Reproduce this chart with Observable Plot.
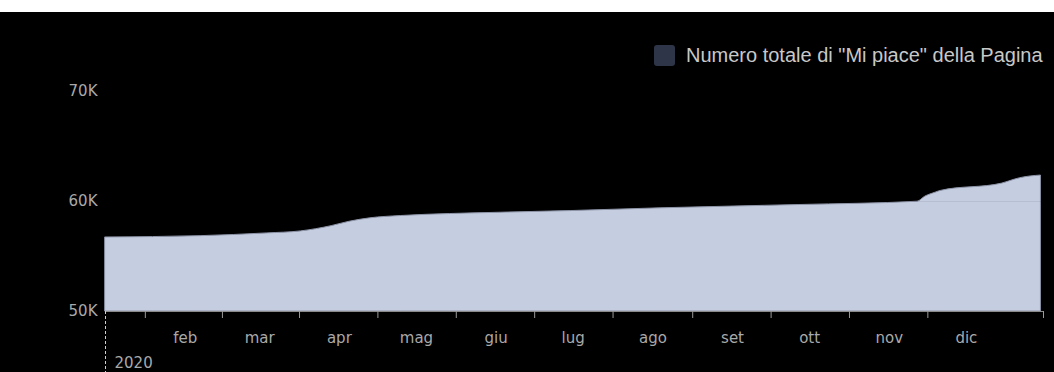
<!DOCTYPE html>
<html>
<head>
<meta charset="utf-8">
<script src="https://cdn.jsdelivr.net/npm/d3@7"></script>
<script src="https://cdn.jsdelivr.net/npm/@observablehq/plot@0.6"></script>
<style>
  html, body { margin: 0; padding: 0; background: #ffffff; }
  #wrap { position: relative; margin-top: 12px; width: 1054px; height: 360px; background: #000; overflow: hidden; }
  #legend { position: absolute; left: 654px; top: 32px; display: flex; align-items: center;
            font-family: "Liberation Sans", Arial, sans-serif; font-size: 20px; color: #c8c8c8; white-space: nowrap; }
  #legend .sw { width: 21px; height: 21px; border-radius: 3px; background: #2e3548; margin-right: 11px; }
  #chart svg { display: block; }
</style>
</head>
<body>
<div id="wrap">
  <div id="chart"></div>
  <div id="legend"><span class="sw"></span><span id="legend-text"></span></div>
</div>
<script>
// ---- data ----
const seriesName = 'Numero totale di "Mi piace" della Pagina';
const dates = [
  "2020-01-01", "2020-02-07", "2020-03-04", "2020-03-17", "2020-03-29",
  "2020-04-05", "2020-04-13", "2020-04-25", "2020-05-14", "2020-06-03",
  "2020-06-30", "2020-08-04", "2020-09-27", "2020-11-12", "2020-11-15",
  "2020-11-19", "2020-11-21", "2020-12-15", "2020-12-20", "2020-12-22",
  "2020-12-30"
];
const likes = [
  56730, 56850, 57100, 57280, 57760,
  58160, 58470, 58680, 58860, 58980,
  59130, 59380, 59680, 59980, 60440,
  60800, 60960, 61630, 62000, 62120,
  62360
];
const yTicks = [50000, 60000, 70000];
const monthLabels = ["feb", "mar", "apr", "mag", "giu", "lug", "ago", "set", "ott", "nov", "dic"];
const yearLabel = "2020";
const domainStart = "2020-01-01";
const domainEnd = "2020-12-31";

// ---- build ----
const parse = d3.utcParse("%Y-%m-%d");
const data = dates.map((d, i) => ({date: parse(d), value: likes[i]}));
const x0 = parse(domainStart), x1 = parse(domainEnd);
const monthStarts = monthLabels.map((_, i) => new Date(Date.UTC(2020, i + 1, 1)));
// tick marks sit at the middle of each month, plus the domain end
const mids = d3.range(11).map(i => {
  const a = Date.UTC(2020, i, 1), b = Date.UTC(2020, i + 1, 1);
  return new Date((a + b) / 2);
}).concat([x1]);

document.getElementById("legend-text").textContent = seriesName;

const gray = "#a9a9a9";
const frameH = 220;

const chart = Plot.plot({
  width: 1054,
  height: 360,
  marginLeft: 105,
  marginRight: 11,
  marginTop: 79,
  marginBottom: 61,
  style: {background: "#000", color: gray, fontFamily: "'DejaVu Sans', Verdana, sans-serif", fontSize: "15px"},
  x: {type: "utc", domain: [x0, x1], axis: null},
  y: {domain: [50000, 70000], axis: null},
  marks: [
    Plot.areaY(data, {x: "date", y1: 50000, y2: "value", curve: "monotone-x",
      fill: "#c5cde1", stroke: "#8e95a8", strokeWidth: 1}),
    Plot.ruleY(yTicks.slice(1), {stroke: "#000", strokeOpacity: 0.07}),
    Plot.ruleY([50000], {stroke: "#8a8a8a"}),
    Plot.text(yTicks, {y: d => d, frameAnchor: "left", dx: -8, textAnchor: "end",
      text: d => d / 1000 + "K", fill: gray}),
    Plot.ruleX(mids, {x: d => d, insetTop: frameH, insetBottom: -7, stroke: "#9a9a9a"}),
    Plot.ruleX([x0], {x: d => d, insetTop: frameH, insetBottom: -61, stroke: "#cfcfcf", strokeDasharray: "3,2"}),
    Plot.text(monthStarts, {x: d => d, frameAnchor: "bottom", dy: 27, lineAnchor: "middle",
      text: (d, i) => monthLabels[i], fill: gray}),
    Plot.text([x0], {x: d => d, frameAnchor: "bottom", dy: 52, dx: 9, textAnchor: "start",
      lineAnchor: "middle", text: [yearLabel], fill: gray})
  ]
});
document.getElementById("chart").appendChild(chart);
</script>
</body>
</html>
